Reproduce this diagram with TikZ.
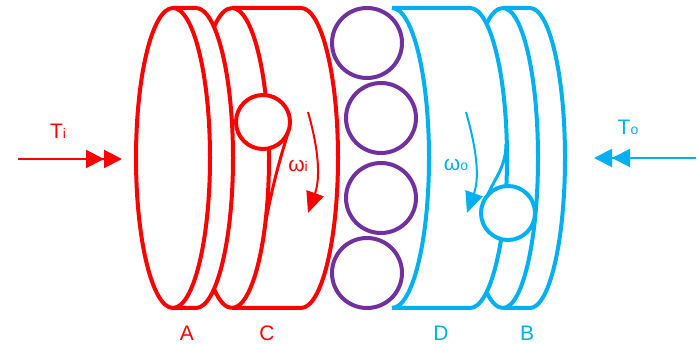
\documentclass[tikz,border=0pt]{standalone}
\usepackage{fontspec}
\setmainfont{Liberation Sans}
\usetikzlibrary{arrows.meta}
\definecolor{inred}{RGB}{255,0,0}
\definecolor{outblue}{RGB}{0,176,240}
\definecolor{rollerpurple}{RGB}{112,48,160}
\newcommand{\partlabel}[2]{{\fontsize{21}{21}\selectfont #1}{\fontsize{14}{14}\selectfont #2}}
\tikzset{
  plate/.style={line width=4pt, line join=round},
  roller/.style={circle, draw=rollerpurple, line width=4pt, minimum size=70pt, inner sep=0pt},
  sprag/.style={circle, draw, fill=white, line width=4pt, minimum size=54pt, inner sep=0pt},
  torque/.style={line width=2pt, -{Triangle[length=18pt,width=18pt] Triangle[length=18pt,width=18pt]}},
  spin/.style={line width=2pt, -{Triangle[length=21pt,width=18pt]}},
  partname/.style={inner sep=0pt, anchor=center},
  arc150/.style={x radius=37, y radius=150}
}
\begin{document}
\begin{tikzpicture}[x=1pt, y=1pt]
  \useasboundingbox (0,0) rectangle (698,344);
  % input side
  \draw[plate, inred] (173,186) ellipse [x radius=37, y radius=150];
  \draw[plate, inred] (173,336) -- (196,336) arc[start angle=90, end angle=-90, arc150] -- (173,36);
  \draw[plate, inred] (232,36) arc[start angle=270, end angle=241, arc150];
  \draw[plate, inred] (232,336) arc[start angle=90, end angle=119, arc150];
  \draw[plate, inred] (232,336) arc[start angle=90, end angle=-90, arc150];
  \draw[plate, inred] (232,336) -- (301,336) arc[start angle=90, end angle=-90, arc150] -- (232,36);
  \coordinate (wedgei) at (288,211);
  \coordinate (wedgeifoot) at (266,124);
  \draw[plate, inred, line width=3pt] (wedgei) to[bend right=3] (wedgeifoot);
  \node[sprag, draw=inred] (spragi) at (263,222) {};
  % rollers
  \node[roller] (rollera) at (367,301) {};
  \node[roller] (rollerb) at (381,226) {};
  \node[roller] (rollerc) at (381,146) {};
  \node[roller] (rollerd) at (367,71) {};
  % output side
  \draw[plate, outblue] (392,336) arc[start angle=90, end angle=-90, arc150];
  \draw[plate, outblue] (392,336) -- (470,336) arc[start angle=90, end angle=-90, arc150] -- (392,36);
  \draw[plate, outblue] (503,336) arc[start angle=90, end angle=116, arc150];
  \draw[plate, outblue] (503,36) arc[start angle=270, end angle=244, arc150];
  \draw[plate, outblue] (503,336) arc[start angle=90, end angle=-90, x radius=35, y radius=150];
  \draw[plate, outblue] (503,336) -- (530,336) arc[start angle=90, end angle=-90, x radius=35, y radius=150] -- (503,36);
  \coordinate (wedgeo) at (506,200);
  \coordinate (wedgeofoot) at (487,148);
  \draw[plate, outblue, line width=3pt] (wedgeo) to[out=-90, in=65] (wedgeofoot);
  \node[sprag, draw=outblue] (spragb) at (508,131) {};
  % torque arrows
  \coordinate (tistart) at (18,185);
  \coordinate (tiend) at (122,185);
  \coordinate (tostart) at (696,186);
  \coordinate (toend) at (594,186);
  \draw[torque, inred] (tistart) -- (tiend);
  \draw[torque, outblue] (tostart) -- (toend);
  % speed arrows
  \coordinate (wistart) at (308,232);
  \coordinate (wiend) at (308,131);
  \coordinate (wostart) at (466,232);
  \coordinate (woend) at (467,131);
  \draw[spin, inred] (wistart) .. controls (316,204) and (322,170) .. (wiend);
  \draw[spin, outblue] (wostart) .. controls (474,204) and (481,170) .. (woend);
  % labels
  \node[partname, text=inred] (ti) at (58,213) {\partlabel{T}{i}};
  \node[partname, text=outblue] (to) at (628,217) {\partlabel{T}{o}};
  \node[partname, text=inred] (wi) at (298,178) {\partlabel{ω}{i}};
  \node[partname, text=outblue] (wo) at (456,179) {\partlabel{ω}{o}};
  \node[partname, text=inred] (parta) at (187,11) {\partlabel{A}{}};
  \node[partname, text=inred] (partc) at (267,11) {\partlabel{C}{}};
  \node[partname, text=outblue] (partd) at (441,11) {\partlabel{D}{}};
  \node[partname, text=outblue] (partb) at (527,11) {\partlabel{B}{}};
\end{tikzpicture}
\end{document}
